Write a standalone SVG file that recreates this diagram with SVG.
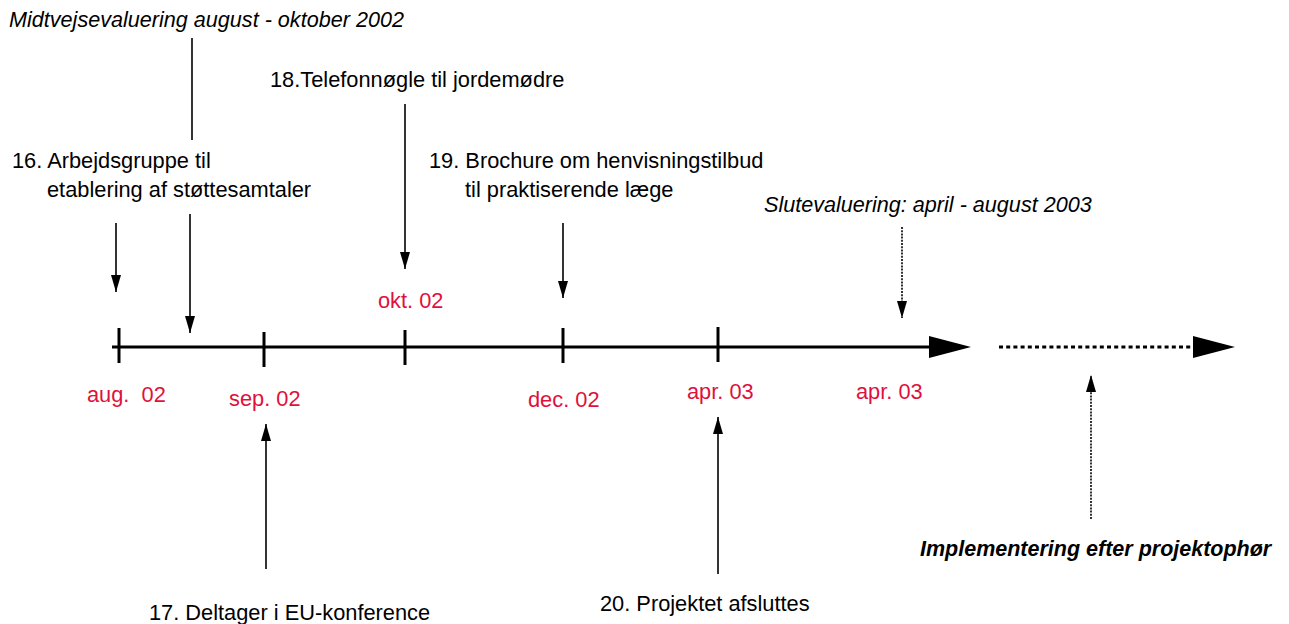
<svg xmlns="http://www.w3.org/2000/svg" width="1289" height="624" viewBox="0 0 1289 624">
<style>
  text { font-family: "Liberation Sans", Arial, sans-serif; font-size: 21.8px; fill: #000; white-space: pre; }
  .it { font-style: italic; font-size: 21.6px; }
  .bi { font-style: italic; font-weight: bold; font-size: 21.5px; }
  .red { fill: #e0103c; }
  .axis { stroke: #000; stroke-width: 3; fill: none; }
  .tick { stroke: #000; stroke-width: 3; }
  .dots { stroke: #000; stroke-width: 3; stroke-dasharray: 4 3.2; fill: none; }
  .arr { stroke: #000; stroke-width: 1.6; fill: none; marker-end: url(#ah); }
  .darr { stroke: #000; stroke-width: 1.6; stroke-dasharray: 2 1.2; fill: none; marker-end: url(#ah); }
  .plain { stroke: #000; stroke-width: 1.6; fill: none; }
</style>
<defs>
  <marker id="ah" markerUnits="userSpaceOnUse" markerWidth="17" markerHeight="10" refX="17" refY="5" orient="auto">
    <path d="M0,0 L17,5 L0,10 z" fill="#000"/>
  </marker>
  <marker id="big" markerUnits="userSpaceOnUse" markerWidth="43" markerHeight="23" refX="0" refY="11.5" orient="auto">
    <path d="M0,0.5 L42,11.5 L0,22.5 z" fill="#000"/>
  </marker>
</defs>
<rect width="1289" height="624" fill="#fff"/>

<g id="connectors">
  <line class="axis" x1="112" y1="347" x2="929" y2="347" marker-end="url(#big)"/>
  <line class="dots" x1="999" y1="347" x2="1193" y2="347" marker-end="url(#big)"/>
  <line class="plain" x1="192" y1="38" x2="192" y2="140"/>
  <line class="arr" x1="116" y1="223" x2="116" y2="292"/>
  <line class="arr" x1="190" y1="214" x2="190" y2="333"/>
  <line class="arr" x1="405" y1="104" x2="405" y2="269"/>
  <line class="arr" x1="563" y1="223" x2="563" y2="298"/>
  <line class="darr" x1="902" y1="227" x2="902" y2="318"/>
  <line class="arr" x1="266" y1="569" x2="266" y2="424"/>
  <line class="arr" x1="718" y1="574" x2="718" y2="417"/>
  <line class="darr" x1="1091" y1="519" x2="1091" y2="375"/>
</g>

<g id="tick-aug"><line class="tick" x1="119" y1="328" x2="119" y2="363"/><text class="red" x="87" y="402">aug.  02</text></g>
<g id="tick-sep"><line class="tick" x1="264" y1="332" x2="264" y2="367"/><text class="red" x="229" y="406">sep. 02</text></g>
<g id="tick-okt"><line class="tick" x1="405" y1="330" x2="405" y2="365"/><text class="red" x="378" y="308">okt. 02</text></g>
<g id="tick-dec"><line class="tick" x1="563" y1="328" x2="563" y2="363"/><text class="red" x="528" y="407">dec. 02</text></g>
<g id="tick-apr"><line class="tick" x1="718" y1="327" x2="718" y2="362"/><text class="red" x="687" y="399">apr. 03</text></g>
<g id="label-apr2"><text class="red" x="856" y="399">apr. 03</text></g>

<g id="midtvejs"><text class="it" x="9" y="27">Midtvejsevaluering august - oktober 2002</text></g>
<g id="n18"><text x="270" y="87">18.Telefonnøgle til jordemødre</text></g>
<g id="n16"><text x="12" y="168">16. Arbejdsgruppe til</text><text x="47" y="197">etablering af støttesamtaler</text></g>
<g id="n19"><text x="429" y="168">19. Brochure om henvisningstilbud</text><text x="465" y="197">til praktiserende læge</text></g>
<g id="slut"><text class="it" x="764" y="212">Slutevaluering: april - august 2003</text></g>
<g id="n17"><text x="149" y="620">17. Deltager i EU-konference</text></g>
<g id="n20"><text x="600" y="611">20. Projektet afsluttes</text></g>
<g id="impl"><text class="bi" x="920" y="556">Implementering efter projektophør</text></g>
</svg>
